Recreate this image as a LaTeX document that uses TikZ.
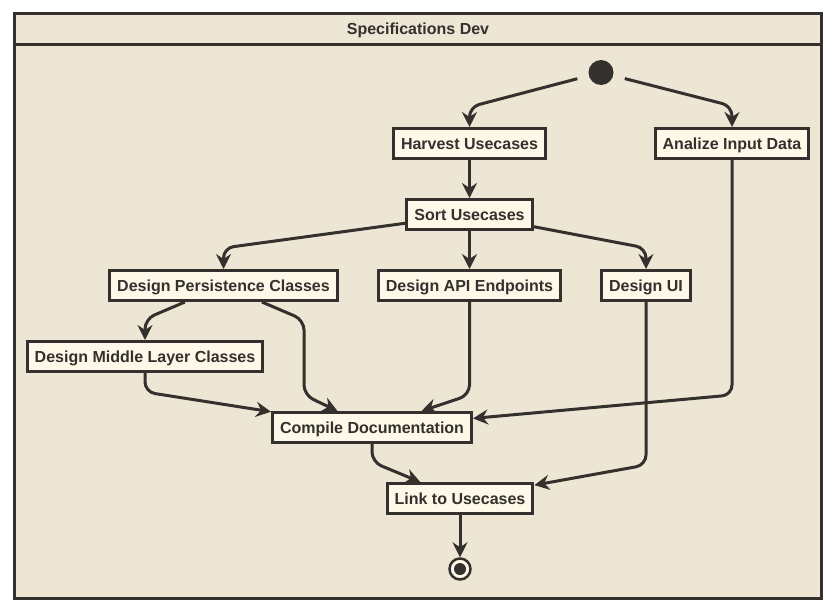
\documentclass[tikz,border=0pt]{standalone}
\usepackage{fontspec}
\setmainfont{Liberation Sans}
\usetikzlibrary{arrows.meta}
\definecolor{bg}{HTML}{EEE6D4}
\definecolor{boxfill}{HTML}{FEF8E8}
\definecolor{ink}{HTML}{33302D}

\begin{document}
\begin{tikzpicture}[x=1pt,y=-1pt,
    label font/.style={text=ink,text height=11.5pt,text depth=0pt,
        font=\fontsize{16}{18}\selectfont\bfseries},
    act/.style={label font,draw=ink,fill=boxfill,line width=3pt,inner xsep=7.5pt,
        inner ysep=0pt,minimum height=30pt},
    flow/.style={draw=ink,line width=3pt,rounded corners=10pt,
        -{Stealth[length=15pt,width=15pt,inset=5pt]}}]
\useasboundingbox (0,0) rectangle (834,611);
% frame and title
\draw [draw=ink,fill=bg,line width=3pt] (14.5,13.5) rectangle (821.5,598);
\draw [draw=ink,line width=3pt] (14.5,44) -- (821.5,44);
\node [label font] (title) at (418,29) {Specifications Dev};
% activities
\node [circle,fill=ink,minimum size=25pt,inner sep=0pt,outer sep=12pt] (start) at (601,72.5) {};
\node [act] (harvest) at (469.5,143.5) {Harvest Usecases};
\node [act] (analize) at (732,143.5) {Analize Input Data};
\node [act] (sortuc) at (469.5,214.5) {Sort Usecases};
\node [act] (persist) at (223.5,285.5) {Design Persistence Classes};
\node [act] (api) at (469.5,285.5) {Design API Endpoints};
\node [act] (ui) at (646,285.5) {Design UI};
\node [act] (middle) at (145,356.5) {Design Middle Layer Classes};
\node [act] (compile) at (372,427.5) {Compile Documentation};
\node [act] (link) at (460,498.5) {Link to Usecases};
\node [circle,draw=ink,line width=2.5pt,fill=boxfill,minimum size=21pt,inner sep=0pt] (stop) at (460,569) {};
\fill [ink] (stop) circle (6pt);
% flows
\draw [flow] (start) -- ([yshift=20pt]harvest.north) -- (harvest);
\draw [flow] (start) -- ([yshift=21pt]analize.north) -- (analize);
\draw [flow] (harvest) -- (sortuc);
\draw [flow] (sortuc) -- ([yshift=21pt]persist.north) -- (persist);
\draw [flow] (sortuc) -- (api);
\draw [flow] (sortuc) -- ([yshift=21pt]ui.north) -- (ui);
\draw [flow] (persist) -- ([yshift=21pt]middle.north) -- (middle);
\draw [flow] (persist) -- (304,320) -- (304,395) -- (compile);
\draw [flow] (middle) -- (145,392) -- (compile);
\draw [flow] (api) -- (469.5,395) -- (compile);
\draw [flow] (analize) -- (732,395) -- (compile);
\draw [flow] (compile) -- (372,462) -- (link);
\draw [flow] (ui) -- (646,465) -- (link);
\draw [flow] (link) -- (stop);
\end{tikzpicture}
\end{document}
